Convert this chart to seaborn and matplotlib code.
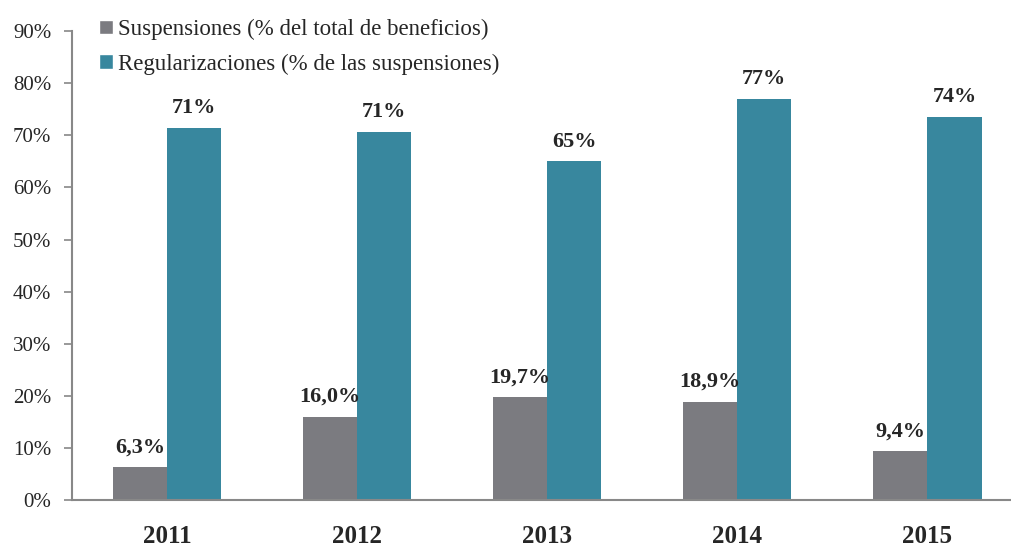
import numpy as np
import pandas as pd
import matplotlib
matplotlib.use("Agg")
import matplotlib.pyplot as plt
import seaborn as sns
from matplotlib.patches import Patch

years = ["2011", "2012", "2013", "2014", "2015"]
suspensiones = [6.3, 16.0, 19.7, 18.9, 9.4]
regularizaciones = [71.5, 70.6, 65.0, 77.0, 73.5]
reg_labels = ["71%", "71%", "65%", "77%", "74%"]
series_names = ["Suspensiones (% del total de beneficios)",
                "Regularizaciones (% de las suspensiones)"]
y_ticks = [0, 10, 20, 30, 40, 50, 60, 70, 80, 90]

colors = ["#7b7b80", "#38879e"]

df = pd.DataFrame({
    "year": years * 2,
    "value": suspensiones + regularizaciones,
    "serie": [series_names[0]] * 5 + [series_names[1]] * 5,
})

sns.set_style("white")
plt.rcParams["font.family"] = ["Liberation Serif", "DejaVu Serif"]

fig = plt.figure(figsize=(10.11, 5.49), dpi=100)
ax = fig.add_axes([0.0712, 0.0893, 0.9288, 0.854])

sns.barplot(data=df, x="year", y="value", hue="serie", palette=colors,
            width=0.57, gap=0, saturation=1, ax=ax, legend=False,
            edgecolor="none")

# labels above bars
for i, c in enumerate(ax.containers):
    labs = [f"{v:.1f}%".replace(".", ",") for v in suspensiones] if i == 0 else reg_labels
    ax.bar_label(c, labels=labs, padding=7, fontsize=16, fontweight="bold")

ax.set_yticks(y_ticks)
ax.set_yticklabels([f"{t}%" for t in y_ticks], fontsize=15)
ax.set_xticks(range(len(years)))
ax.set_xticklabels(years, fontsize=18, fontweight="bold")
ax.set_xticks(np.arange(-0.5, 4.6, 1), minor=True)
ax.set_ylim(0, 90)
ax.set_xlim(-0.5, 4.44)
ax.tick_params(axis="x", which="major", length=0, pad=18)
ax.tick_params(axis="x", which="minor", length=6, direction="out", color="#888888", width=1.2)
ax.tick_params(axis="y", length=6, direction="out", color="#888888", width=1.2, pad=9, left=True)
ax.set_xlabel("")
ax.set_ylabel("")

for s in ["top", "right"]:
    ax.spines[s].set_visible(False)
for s in ["left", "bottom"]:
    ax.spines[s].set_color("#888888")
    ax.spines[s].set_linewidth(1.5)

handles = [Patch(facecolor=colors[0]), Patch(facecolor=colors[1])]
fig.legend(handles, series_names, loc="upper left", bbox_to_anchor=(0.078, 1.003),
           frameon=False, fontsize=16.5, handlelength=0.6, handleheight=0.6,
           handletextpad=0.2, labelspacing=0.58)

fig.savefig("out.png", dpi=100)
